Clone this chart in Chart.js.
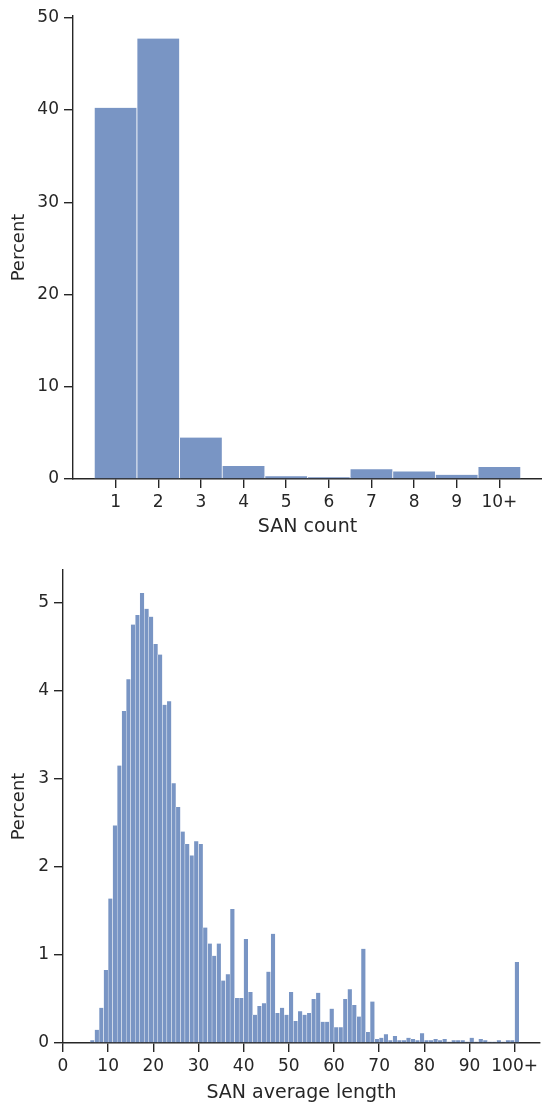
<!DOCTYPE html>
<html>
<head>
<meta charset="utf-8">
<script src="https://cdn.jsdelivr.net/npm/chart.js@4"></script>
<style>
  body { margin: 0; background: #fff; }
  #top, #bottom { position: absolute; left: 0; }
  #top { top: 0; }
  #bottom { top: 550px; }
</style>
</head>
<body>
<canvas id="top" width="542" height="550"></canvas>
<canvas id="bottom" width="542" height="554"></canvas>
<script>
// SAN count histogram
const countBins = [1, 2, 3, 4, 5, 6, 7, 8, 9, 10];
const countTickLabels = ['1', '2', '3', '4', '5', '6', '7', '8', '9', '10+'];
const countPercent = [40.25, 47.75, 4.5, 1.42, 0.3, 0.19, 1.05, 0.82, 0.45, 1.31];
const countYTicks = [0, 10, 20, 30, 40, 50];

// SAN average length histogram (bin start values, width 1)
const lengthBins = [6, 7, 8, 9, 10, 11, 12, 13, 14, 15, 16, 17, 18, 19, 20, 21, 22, 23, 24, 25,
  26, 27, 28, 29, 30, 31, 32, 33, 34, 35, 36, 37, 38, 39, 40, 41, 42, 43, 44, 45,
  46, 47, 48, 49, 50, 51, 52, 53, 54, 55, 56, 57, 58, 59, 60, 61, 62, 63, 64, 65,
  66, 67, 68, 69, 70, 71, 72, 73, 74, 75, 76, 77, 78, 79, 80, 81, 82, 83, 84, 85,
  86, 87, 88, 89, 90, 91, 92, 93, 94, 95, 96, 97, 98, 99, 100];
const lengthPercent = [0.03, 0.15, 0.40, 0.83, 1.64, 2.47, 3.15, 3.77, 4.13, 4.75,
  4.86, 5.11, 4.93, 4.84, 4.53, 4.41, 3.84, 3.88, 2.95, 2.68,
  2.40, 2.26, 2.13, 2.29, 2.26, 1.31, 1.13, 0.99, 1.13, 0.71,
  0.78, 1.52, 0.51, 0.51, 1.18, 0.58, 0.32, 0.42, 0.45, 0.81,
  1.24, 0.34, 0.40, 0.32, 0.58, 0.25, 0.36, 0.32, 0.34, 0.50,
  0.57, 0.24, 0.24, 0.39, 0.18, 0.18, 0.50, 0.61, 0.43, 0.30,
  1.07, 0.125, 0.47, 0.045, 0.06, 0.10, 0.03, 0.08, 0.03, 0.03,
  0.06, 0.045, 0.03, 0.11, 0.03, 0.03, 0.045, 0.03, 0.045, 0.015,
  0.03, 0.03, 0.03, 0.015, 0.06, 0.015, 0.045, 0.03, 0.015, 0.015,
  0.03, 0.015, 0.03, 0.03, 0.92];
const lengthTicks = [0, 10, 20, 30, 40, 50, 60, 70, 80, 90, 100];
const lengthTickLabels = ['0', '10', '20', '30', '40', '50', '60', '70', '80', '90', '100+'];
const lengthYTicks = [0, 1, 2, 3, 4, 5];

const BAR = 'rgb(121, 149, 196)';
const INK = '#262626';
const FONT = 'DejaVu Sans';

function axisStyle() {
    return {
        offset: false,
        grid: { display: true, offset: false, drawOnChartArea: false, drawTicks: true, tickLength: 9, color: INK, lineWidth: 1.4 },
        border: { display: true, color: INK, width: 1.4 }
    };
}

function makeHist(id, points, opts) {
    const cfg = {
        type: 'bar',
        data: {
            datasets: [{
                data: points,
                backgroundColor: BAR,
                borderColor: '#ffffff',
                borderWidth: { left: opts.edge, right: opts.edge, top: 0, bottom: 0 },
                borderSkipped: false,
                barPercentage: 1,
                categoryPercentage: 1
            }]
        },
        options: {
            responsive: false,
            animation: false,
            devicePixelRatio: 1,
            layout: { padding: { top: opts.top, right: 0, left: 0, bottom: 0 } },
            plugins: { legend: { display: false }, tooltip: { enabled: false } },
            scales: {
                x: Object.assign(axisStyle(), {
                    type: 'linear',
                    min: opts.xmin,
                    max: opts.xmax,
                    afterBuildTicks: s => { s.ticks = opts.xticks.map(v => ({ value: v })); },
                    afterFit: s => { s.height = opts.xh; },
                    ticks: {
                        autoSkip: false, maxRotation: 0, padding: 4,
                        color: INK, font: { family: FONT, size: 17 },
                        callback: (v, i) => opts.xlabels[i]
                    },
                    title: {
                        display: true, text: opts.xtitle, color: INK,
                        font: { family: FONT, size: 19 }, padding: { top: 0, bottom: opts.titlePad }
                    }
                }),
                y: Object.assign(axisStyle(), {
                    min: 0,
                    max: opts.ymax,
                    afterBuildTicks: s => { s.ticks = opts.yticks.map(v => ({ value: v })); },
                    afterFit: s => { s.width = opts.yw; },
                    ticks: { padding: 5, color: INK, font: { family: FONT, size: 17 } },
                    title: {
                        display: true, text: 'Percent', color: INK,
                        font: { family: FONT, size: 18 }, padding: { top: 9, bottom: 0 }
                    }
                })
            }
        }
    };
    return new Chart(document.getElementById(id), cfg);
}

makeHist('top', countBins.map((b, i) => ({ x: b, y: countPercent[i] })), {
    edge: 0.75, top: 16, xmin: 0, xmax: 11, xticks: countBins, xlabels: countTickLabels,
    xh: 71, yw: 73, ymax: 50.2, yticks: countYTicks, xtitle: 'SAN count', titlePad: 12
});

makeHist('bottom', lengthBins.map((b, i) => ({ x: b + 0.5, y: lengthPercent[i] })), {
    edge: 0.5, top: 20, xmin: 0, xmax: 105.6, xticks: lengthTicks, xlabels: lengthTickLabels,
    xh: 61, yw: 63, ymax: 5.37, yticks: lengthYTicks, xtitle: 'SAN average length', titlePad: 0
});
</script>
</body>
</html>
